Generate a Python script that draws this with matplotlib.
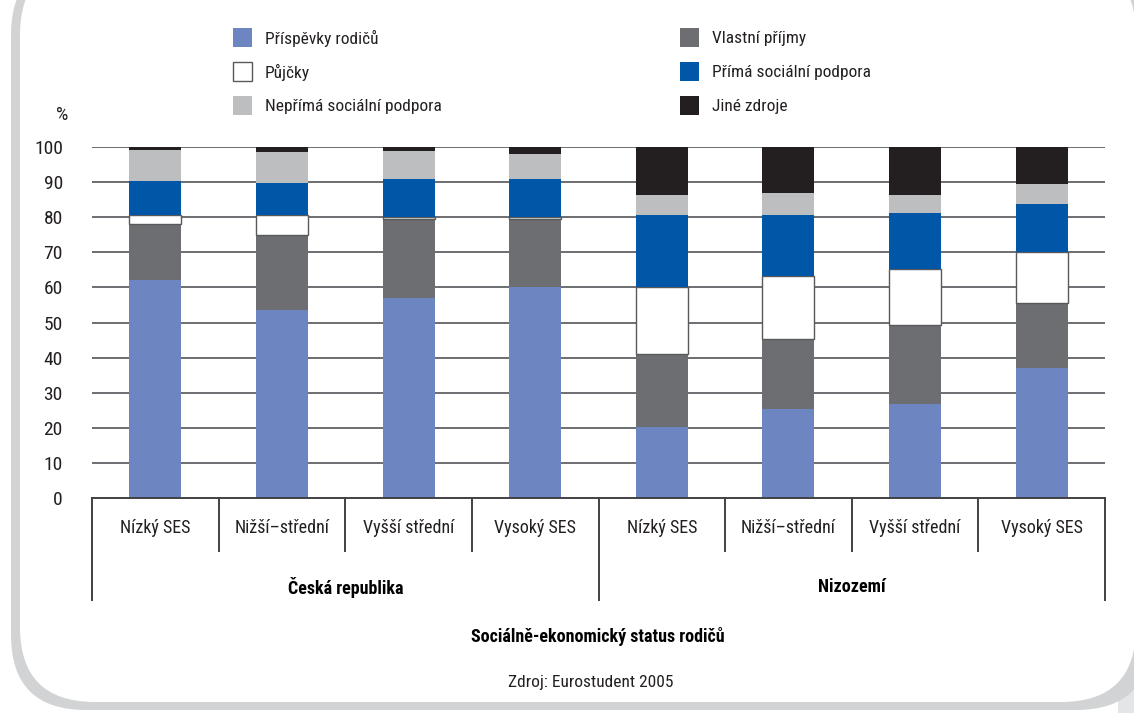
import matplotlib
matplotlib.use("Agg")
import matplotlib.pyplot as plt
from matplotlib import font_manager
from matplotlib.patches import FancyBboxPatch, Rectangle
import numpy as np

# ---------------- data ----------------
categories = ["Nízký SES", "Nižší–střední", "Vyšší střední", "Vysoký SES",
              "Nízký SES", "Nižší–střední", "Vyšší střední", "Vysoký SES"]
groups = ["Česká republika", "Nizozemí"]
series_names = ["Příspěvky rodičů", "Vlastní příjmy", "Půjčky",
                "Přímá sociální podpora", "Nepřímá sociální podpora", "Jiné zdroje"]
prispevky_rodicu = [62.1, 53.6, 57.1, 60.1, 20.2, 25.4, 26.8, 37.1]
vlastni_prijmy   = [16.1, 21.3, 22.5, 19.5, 20.7, 19.9, 22.5, 18.5]
pujcky           = [2.4, 5.7, 0.4, 0.4, 19.3, 18.0, 15.9, 14.6]
prima_podpora    = [9.6, 9.2, 10.8, 10.8, 20.4, 17.3, 15.9, 13.5]
neprima_podpora  = [8.9, 8.7, 8.2, 7.1, 5.7, 6.2, 5.2, 5.8]
jine_zdroje      = [0.9, 1.5, 1.0, 2.1, 13.7, 13.2, 13.7, 10.5]
yticks = [0, 10, 20, 30, 40, 50, 60, 70, 80, 90, 100]

series = [prispevky_rodicu, vlastni_prijmy, pujcky, prima_podpora, neprima_podpora, jine_zdroje]
colors = ["#6d85c1", "#6d6e71", "#ffffff", "#0057a8", "#bcbec0", "#231f20"]
edges = [None, None, "#58595b", None, None, None]

# ---------------- fonts ----------------
names = {f.name for f in font_manager.fontManager.ttflist}
fam = []
for cand in ["Liberation Sans Narrow", "Roboto Condensed", "Open Sans Condensed", "DejaVu Sans Condensed"]:
    if cand in names:
        fam.append(cand)
        break
fam += ["Liberation Sans", "DejaVu Sans"]
plt.rcParams["font.family"] = fam

W, H = 1134, 713
fig = plt.figure(figsize=(W / 100, H / 100), dpi=100, facecolor="white")

# background frame
bg = fig.add_axes([0, 0, 1, 1], zorder=-10)
bg.set_xlim(0, W)
bg.set_ylim(H, 0)
bg.axis("off")
bg.add_patch(Rectangle((1118, -5), 30, H + 10, color="#e4e5e6", lw=0))
bg.add_patch(FancyBboxPatch((11, -40), 1140, 750, boxstyle="round,pad=0,rounding_size=75",
                            fc="#d1d3d4", ec="none"))
bg.add_patch(FancyBboxPatch((20, -40), 1116, 742, boxstyle="round,pad=0,rounding_size=75",
                            fc="white", ec="none"))

# legend (manual, two columns)
leg_order = [0, 2, 4, 1, 3, 5]
for k, si in enumerate(leg_order):
    col, row = divmod(k, 3)
    x0 = 233 if col == 0 else 680
    yc = 38 + row * 34
    bg.add_patch(Rectangle((x0, yc - 10), 19, 19, fc=colors[si],
                           ec=edges[si] if edges[si] else "none", lw=1))
    bg.text(x0 + 32, yc, series_names[si], fontsize=12.5, va="center", ha="left", color="#231f20")

# ---------------- main axes ----------------
L, R, T, B = 92, 1105, 147, 498
ax = fig.add_axes([L / W, (H - B) / H, (R - L) / W, (B - T) / H])
x = np.arange(len(categories))
bottom = np.zeros(len(categories))
for vals, c, e in zip(series, colors, edges):
    ax.bar(x, vals, width=0.41, bottom=bottom, color=c,
           edgecolor=e if e else c, linewidth=1 if e else 0, zorder=3)
    bottom += np.array(vals)

ax.set_xlim(-0.5, len(categories) - 0.5)
ax.set_ylim(0, 100)
ax.set_yticks(yticks)
ax.set_yticklabels([str(t) for t in yticks], fontsize=14, color="#231f20")
ax.tick_params(axis="y", length=0, pad=21)
ax.tick_params(axis="x", length=0, labelbottom=False)
for t in yticks[1:]:
    ax.axhline(t, color="#6d6e71", lw=1.4, zorder=1)
for s in ["top", "right", "left"]:
    ax.spines[s].set_visible(False)
ax.spines["bottom"].set_color("#414042")
ax.spines["bottom"].set_linewidth(1.4)
ax.spines["bottom"].set_zorder(4)

# category box lines & labels
trans = ax.get_xaxis_transform()
yrow = -(551 - B) / (B - T)
ygrp = -(600 - B) / (B - T)
for i in range(len(categories) + 1):
    xb = i - 0.5
    yend = ygrp if i in (0, 4, 8) else yrow
    ax.plot([xb, xb], [0, yend], color="#414042", lw=1.4, transform=trans, clip_on=False)
for i, lab in enumerate(categories):
    ax.text(i, -(528 - B) / (B - T), lab, transform=trans, ha="center", va="center",
            fontsize=13, color="#231f20")
for g, lab in enumerate(groups):
    ax.text(g * 4 + 1.5, -(587 - B) / (B - T), lab, transform=trans, ha="center", va="center",
            fontsize=13, color="#000000", fontweight="semibold")

bg.text(62, 115, "%", fontsize=14, ha="center", va="center", color="#231f20")
bg.text(598, 636, "Sociálně-ekonomický status rodičů", fontsize=13, ha="center", va="center",
        color="#000000", fontweight="semibold")
bg.text(591, 683, "Zdroj: Eurostudent 2005", fontsize=12.5, ha="center", va="center", color="#231f20")

fig.savefig("out.png", dpi=100, facecolor="white")
